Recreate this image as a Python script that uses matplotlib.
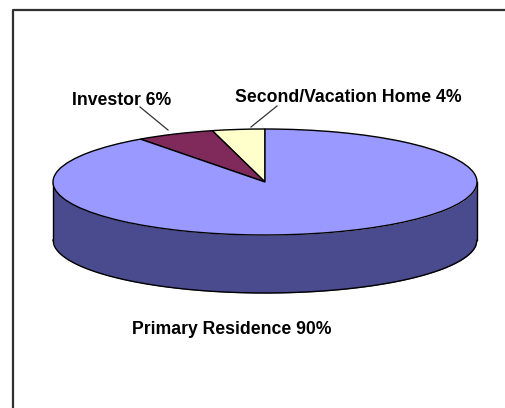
import numpy as np
import matplotlib
matplotlib.use("Agg")
import matplotlib.pyplot as plt

categories = ["Second/Vacation Home", "Investor", "Primary Residence"]
shares = [4, 6, 90]
labels = ["Second/Vacation Home 4%", "Investor 6%", "Primary Residence 90%"]
top_colors = ["#FFFFCC", "#802A5C", "#9999FF"]
side_color = "#4A4A8E"

W, H = 505, 408
CX, CY, RX, RY, DEPTH = 265, 182, 212, 53, 58

plt.rcParams['font.family'] = ['Liberation Sans', 'DejaVu Sans']
fig = plt.figure(figsize=(W / 100, H / 100), dpi=100, facecolor="white")
ax = fig.add_axes([0, 0, 1, 1])

def px(x, y):
    return (x - CX) / RX, (CY - y) / RY

# side wall of the disc
t = np.linspace(-1, 1, 400)
d = DEPTH / RY
arc = np.sqrt(1 - t ** 2)
ax.fill_between(t, -arc, -arc - d, color=side_color, lw=0, zorder=1)
ax.plot(t, -arc - d, color="black", lw=1, zorder=2)
ax.plot([-1, -1], [0, -d], color="black", lw=1, zorder=2)
ax.plot([1, 1], [0, -d], color="black", lw=1, zorder=2)

# top surface
ax.pie(shares, colors=top_colors, startangle=90, counterclock=True, radius=1,
       center=(0, 0), frame=True,
       wedgeprops=dict(edgecolor="black", linewidth=1, zorder=3))
ax.set_aspect("auto")
ax.set_xlim(px(0, 0)[0], px(W, 0)[0])
ax.set_ylim(px(0, H)[1], px(0, 0)[1])
ax.axis("off")

# chart-area frame: top and left edges only
ax.plot(*zip(px(13, H), px(13, 10), px(W, 10)), color="#303030", lw=1.6, zorder=5)

# leader lines
ax.plot(*zip(px(140, 107), px(168, 130)), color="#333333", lw=0.9, zorder=5)
ax.plot(*zip(px(277, 106), px(251, 127)), color="#333333", lw=0.9, zorder=5)

# labels
fs = 12.7
for lab, (x, y) in zip(labels, [(235, 102), (72, 105), (132, 334)]):
    ax.text(*px(x, y), lab, fontsize=fs, fontweight="bold", color="black",
            ha="left", va="baseline", zorder=6)

fig.savefig("out.png", dpi=100, facecolor="white")
